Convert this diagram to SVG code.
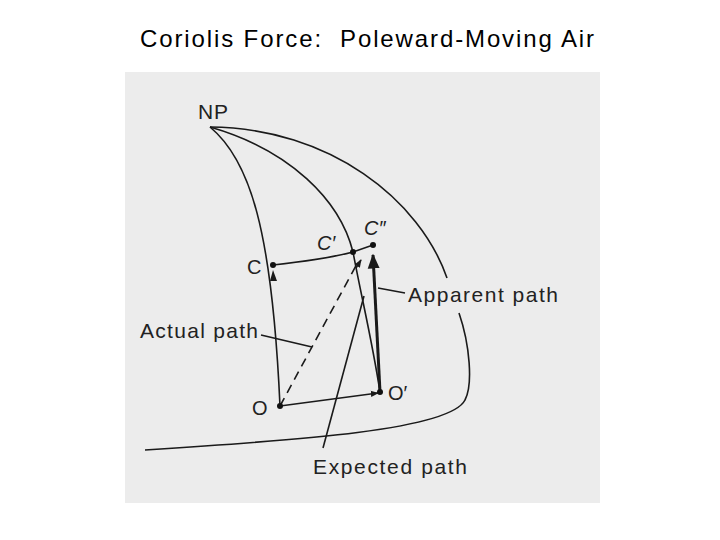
<svg xmlns="http://www.w3.org/2000/svg" width="720" height="540" viewBox="0 0 720 540">
<style>
.t{font-family:"Liberation Sans",Arial,sans-serif;fill:#222}
.l{fill:none;stroke:#1a1a1a;stroke-width:1.6}
</style>
<defs>
<marker id="ah" viewBox="0 0 10 10" refX="9" refY="5" markerWidth="5" markerHeight="5" orient="auto"><path d="M0,1 L10,5 L0,9 Z" fill="#1a1a1a"/></marker>
</defs>
<rect width="720" height="540" fill="#fff"/>
<text class="t" x="140" y="47" font-size="24" textLength="454" xml:space="preserve" style="fill:#000">Coriolis Force:  Poleward-Moving Air</text>
<rect x="125" y="72" width="475" height="431" fill="#ececec"/>
<g id="connectors">
<path class="l" d="M210,127 C330,128 420,200 447,278"/>
<path class="l" d="M459,313 C470,345 473,385 465,400 C450,430 300,440 145,450"/>
<path class="l" d="M210,127 C250,160 272,230 280,406"/>
<path class="l" d="M210,127 C290,150 340,200 353,252 C362,300 372,340 380,392"/>
<path class="l" d="M273,265 C300,262 330,258 353,252 L373,245"/>
<path fill="#1a1a1a" d="M273,270 L270,281 L277,281 Z"/>
<path class="l" d="M280,406 L378,393" marker-end="url(#ah)"/>
<path fill="none" stroke="#1a1a1a" stroke-width="3" d="M380,392 L373,255" marker-end="url(#ah)"/>
<path class="l" stroke-dasharray="9,6" d="M280,406 L358,262"/>
<path class="l" d="M323,448 L364,296"/>
<path class="l" d="M356,268 L361,260" marker-end="url(#ah)"/>
<path class="l" d="M261,335 L312,347"/>
<path class="l" d="M405,293 L378,288"/>
</g>
<g id="NP"><text class="t" x="198" y="119" font-size="21" textLength="30">NP</text></g>
<g id="C"><circle cx="273" cy="265" r="3" fill="#111"/><text class="t" x="247" y="274" font-size="20">C</text></g>
<g id="Cp"><circle cx="353" cy="252" r="3" fill="#111"/><text class="t" x="317" y="250" font-size="20" font-style="italic">C′</text></g>
<g id="Cpp"><circle cx="373" cy="245" r="3" fill="#111"/><text class="t" x="364" y="235" font-size="20" font-style="italic">C″</text></g>
<g id="O"><circle cx="280" cy="406" r="3" fill="#111"/><text class="t" x="252" y="415" font-size="20">O</text></g>
<g id="Op"><circle cx="380" cy="392" r="3" fill="#111"/><text class="t" x="388" y="400" font-size="20">O′</text></g>
<g id="actual"><text class="t" x="140" y="338" font-size="21" textLength="118">Actual path</text></g>
<g id="apparent"><text class="t" x="408" y="302" font-size="21" textLength="150">Apparent path</text></g>
<g id="expected"><text class="t" x="313" y="474" font-size="21" textLength="154">Expected path</text></g>
</svg>
